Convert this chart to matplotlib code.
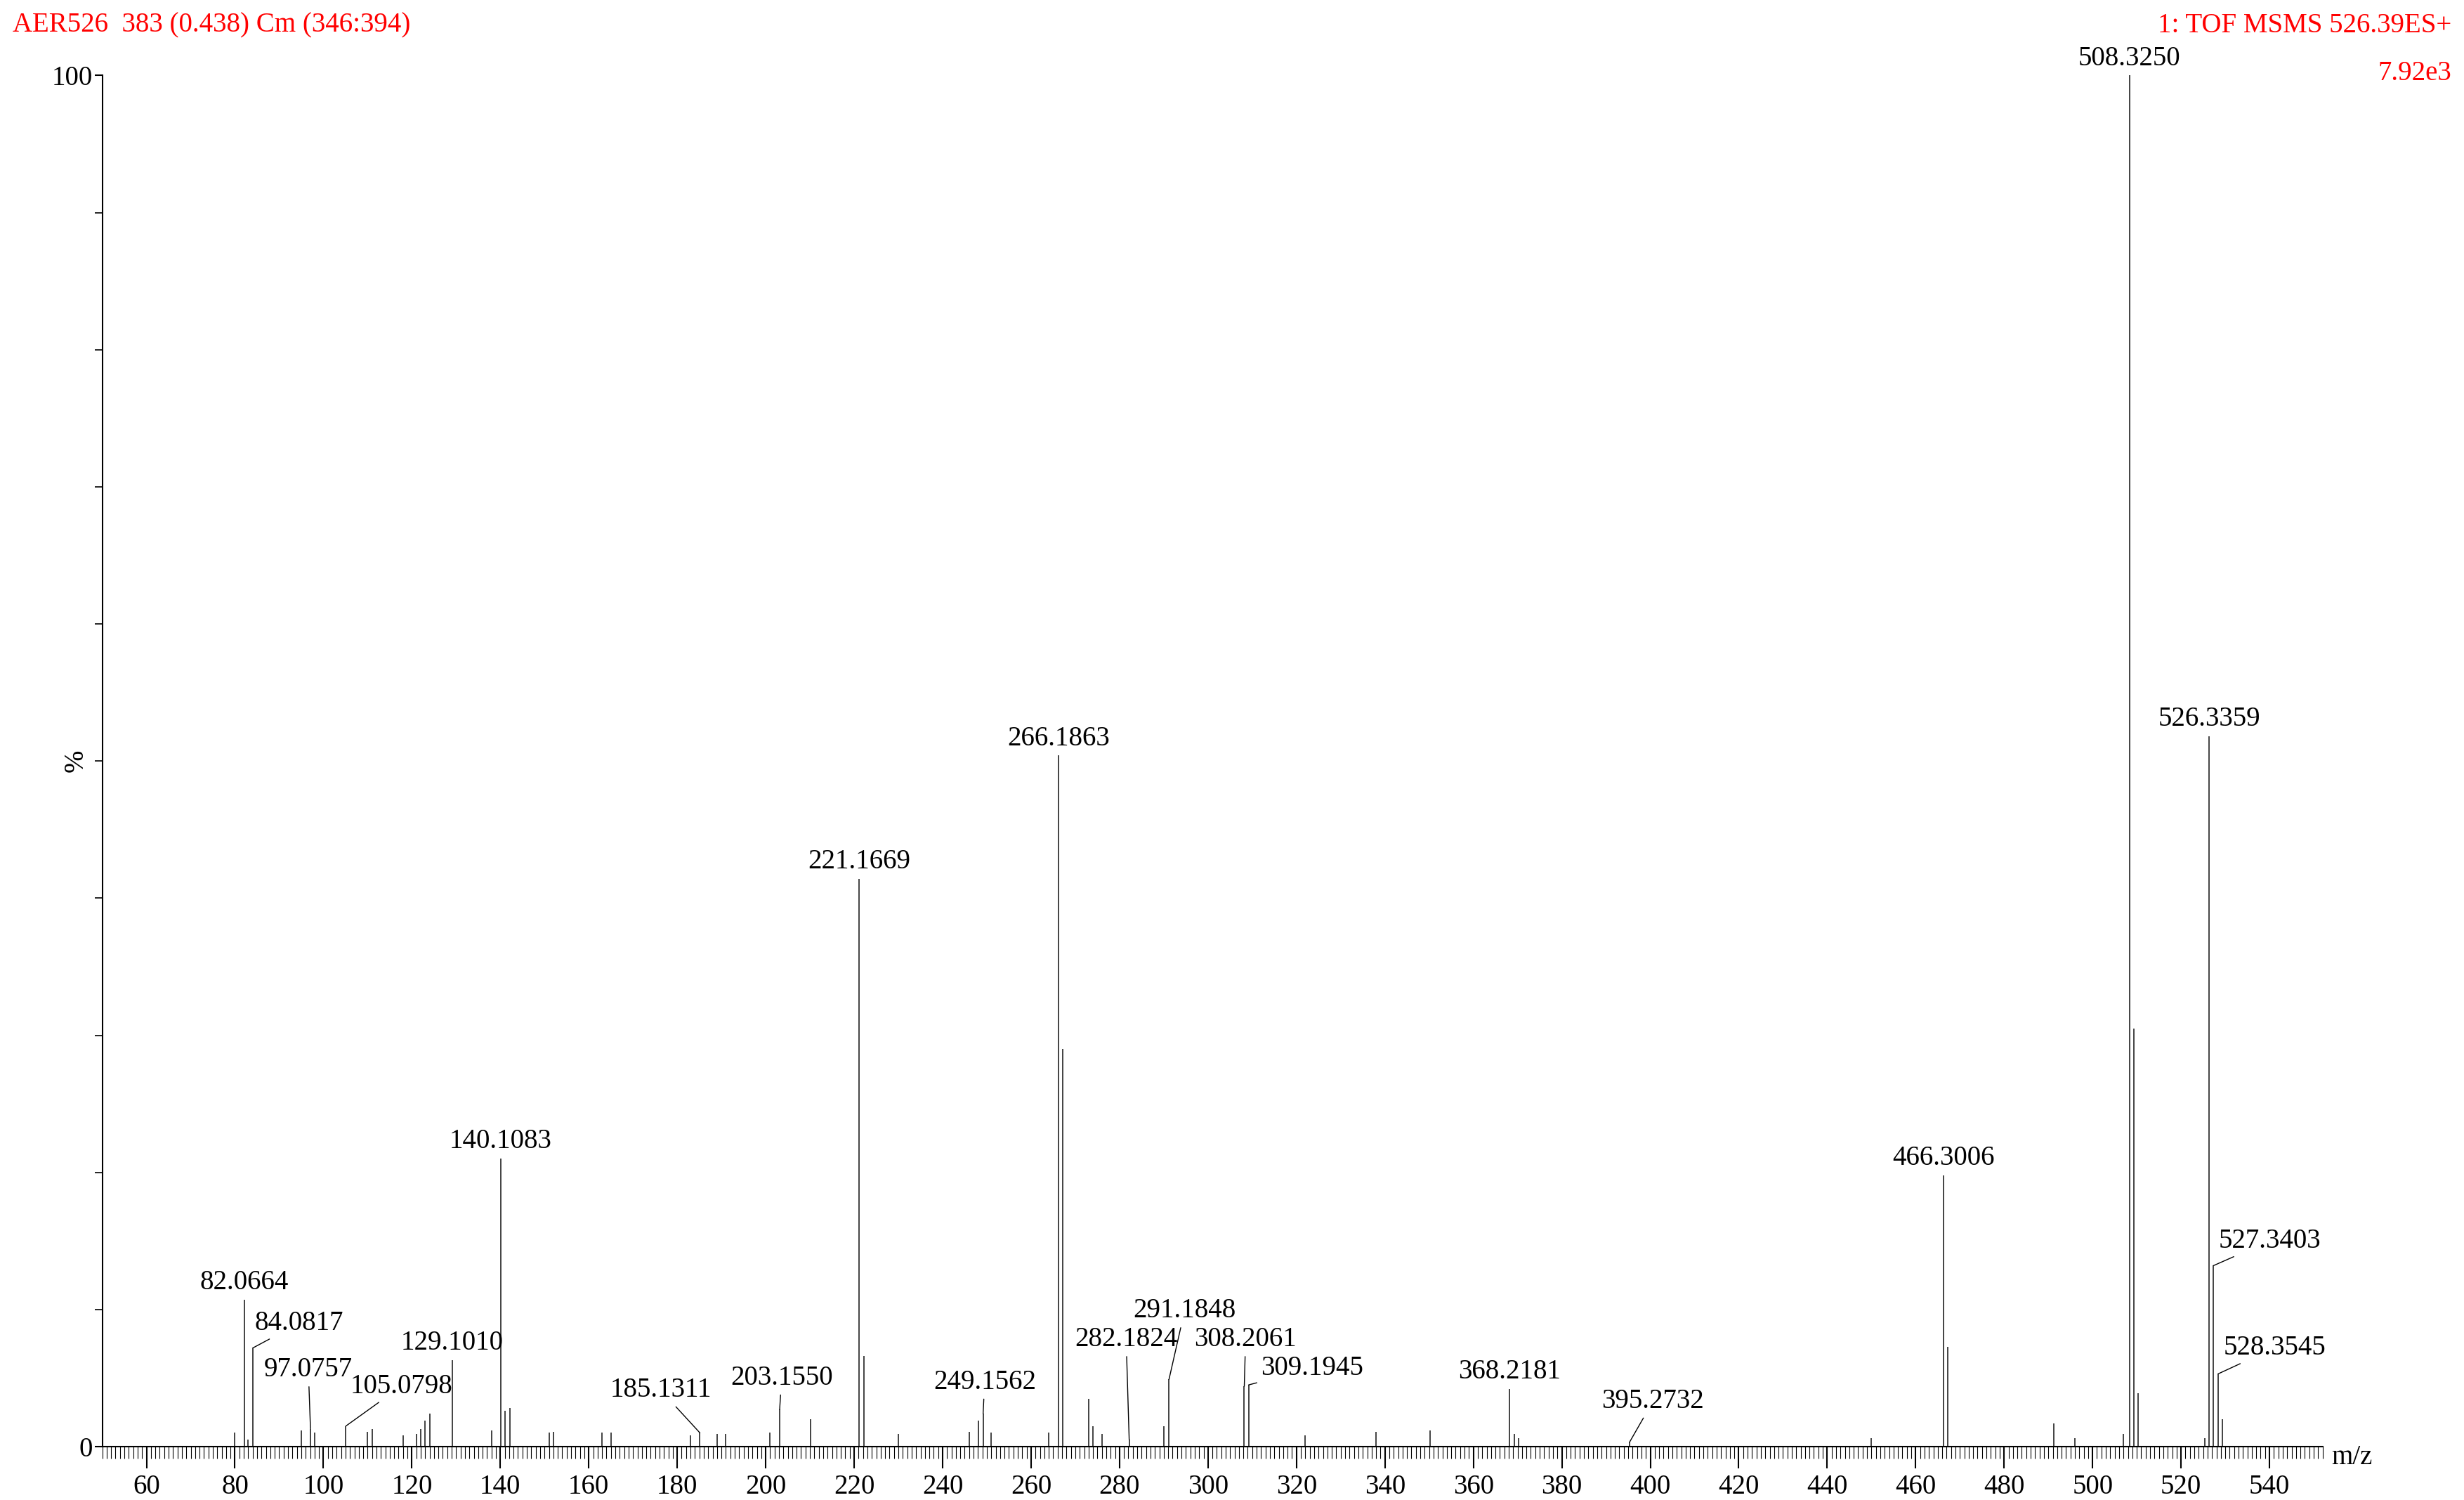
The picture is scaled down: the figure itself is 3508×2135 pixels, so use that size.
import matplotlib.pyplot as plt
import numpy as np
from matplotlib.ticker import MultipleLocator, FixedLocator

plt.rcParams['font.family'] = ['Liberation Serif', 'DejaVu Serif']

# main peaks (m/z, % intensity)
mz = [80.0, 82.0664, 83.0, 84.0817, 95.0, 97.0757, 98.0, 105.0798, 110.0, 111.0, 118.0,
      121.0, 122.0, 123.0, 124.0, 129.1010, 138.0, 140.1083, 141.1, 142.1, 151.0, 152.0,
      163.0, 165.0, 183.0, 185.1311, 189.0, 191.0, 201.0, 203.1550, 210.1, 221.1669,
      222.17, 230.0, 246.0, 248.1, 249.1562, 251.0, 264.0, 266.1863, 267.19, 273.0,
      274.0, 276.0, 282.1824, 290.0, 291.1848, 308.2061, 309.1945, 322.0, 338.0, 350.2,
      368.2181, 369.2, 370.2, 395.2732, 450.0, 466.3006, 467.3, 491.3, 496.0, 507.0,
      508.3250, 509.33, 510.3, 525.3, 526.3359, 527.3403, 528.3545, 529.3]
inten = [1.0, 10.7, 0.5, 7.2, 1.2, 1.3, 1.0, 1.5, 1.1, 1.3, 0.8,
         0.9, 1.3, 1.9, 2.4, 6.3, 1.2, 21.0, 2.6, 2.8, 1.0, 1.1,
         1.0, 1.0, 0.8, 1.0, 0.9, 0.9, 1.0, 2.7, 2.0, 41.4,
         6.6, 0.9, 1.1, 1.9, 2.4, 1.0, 1.0, 50.4, 29.0, 3.5,
         1.5, 0.9, 0.5, 1.5, 4.9, 4.4, 4.5, 0.8, 1.1, 1.2,
         4.2, 0.9, 0.6, 0.3, 0.6, 19.8, 7.3, 1.7, 0.6, 0.9,
         100.0, 30.5, 3.9, 0.6, 51.8, 13.2, 5.3, 2.0]

# labelled peaks: (peak m/z, peak %, label x, label y or None for direct)
labels = [
    (82.0664, 10.7, None, None),
    (84.0817, 7.2, 94.5, 9.0),
    (97.0757, 1.3, 96.6, 5.6),
    (105.0798, 1.5, 117.6, 4.4),
    (129.1010, 6.3, None, None),
    (140.1083, 21.0, None, None),
    (185.1311, 1.0, 176.3, 4.1),
    (203.1550, 2.7, 203.6, 5.0),
    (221.1669, 41.4, None, None),
    (249.1562, 2.4, 249.5, 4.7),
    (266.1863, 50.4, None, None),
    (282.1824, 0.5, 281.5, 7.8),
    (291.1848, 4.9, 294.7, 9.9),
    (308.2061, 4.4, 308.5, 7.8),
    (309.1945, 4.5, 323.5, 5.7),
    (368.2181, 4.2, None, None),
    (395.2732, 0.3, 400.6, 3.3),
    (466.3006, 19.8, None, None),
    (508.3250, 100.0, None, None),
    (526.3359, 51.8, None, None),
    (527.3403, 13.2, 540.0, 15.0),
    (528.3545, 5.3, 541.1, 7.2),
]

fig = plt.figure(figsize=(35.08, 21.35), dpi=100)
ax = fig.add_axes([0.0415, 0.0356, 0.9011, 0.9141])

ax.vlines(mz, 0, inten, colors='#222222', linewidth=1.2)

fs = 28
for m, h, lx, ly in labels:
    txt = f'{m:.4f}'
    if lx is None:
        ax.text(m, h + 0.3, txt, ha='center', va='bottom', fontsize=fs)
    else:
        ax.annotate(txt, xy=(m, h), xytext=(lx, ly), ha='center', va='center',
                    fontsize=fs, arrowprops=dict(arrowstyle='-', lw=1.0, color='black',
                                                 shrinkA=2, shrinkB=0))

ax.set_xlim(50, 552)
ax.set_ylim(0, 100)
for s in ['top', 'right']:
    ax.spines[s].set_visible(False)
ax.spines['left'].set_linewidth(1.5)
ax.spines['bottom'].set_linewidth(1.5)

ax.xaxis.set_major_locator(FixedLocator(np.arange(60, 541, 20)))
ax.xaxis.set_minor_locator(MultipleLocator(1))
ax.tick_params(axis='x', which='major', length=22, width=1.5, labelsize=fs, pad=6)
ax.tick_params(axis='x', which='minor', length=12, width=0.8)
ax.yaxis.set_major_locator(FixedLocator([0, 100]))
ax.yaxis.set_minor_locator(MultipleLocator(10))
ax.tick_params(axis='y', which='major', length=8, width=1.5, labelsize=fs, pad=2)
ax.tick_params(axis='y', which='minor', length=8, width=1.2)

ax.text(-0.012, 0.5, '%', transform=ax.transAxes, rotation=90, ha='center', va='center', fontsize=fs)
ax.text(1.004, -0.008, 'm/z', transform=ax.transAxes, ha='left', va='center', fontsize=fs)

fig.text(0.005, 0.983, 'AER526  383 (0.438) Cm (346:394)', color='red', fontsize=fs, ha='left', va='center')
fig.text(0.995, 0.983, '1: TOF MSMS 526.39ES+', color='red', fontsize=fs, ha='right', va='center')
fig.text(0.995, 0.951, '7.92e3', color='red', fontsize=fs, ha='right', va='center')

fig.savefig('out.png', dpi=100)
